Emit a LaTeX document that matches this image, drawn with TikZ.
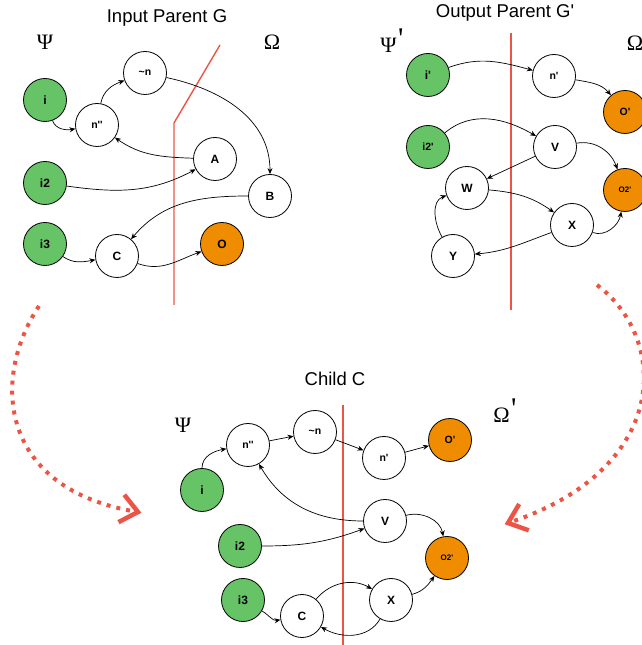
\documentclass[tikz,border=0pt]{standalone}
\usepackage{fontspec}
\newfontfamily\labelfont{Liberation Sans}
\newfontfamily\greekfont{Liberation Serif}
\usetikzlibrary{arrows.meta,positioning}
\definecolor{ingreen}{HTML}{66C466}
\definecolor{outorange}{HTML}{F08C00}
\definecolor{cutred}{HTML}{EC5546}
\newcommand{\primed}[1]{#1\kern1.5pt\raisebox{4pt}{\fontsize{30}{30}\selectfont '}}
\tikzset{
	vert/.style={
		circle,
		draw=black,
		line width=0.8pt,
		minimum size=43pt,
		inner sep=0pt,
		font=\labelfont\bfseries\fontsize{12}{12}\selectfont
	},
	smalltext/.style={font=\labelfont\bfseries\fontsize{10.5}{11}\selectfont},
	tinytext/.style={font=\labelfont\bfseries\fontsize{8}{8}\selectfont},
	greek/.style={font=\greekfont\fontsize{22}{22}\selectfont},
	heading/.style={font=\labelfont\fontsize{18.5}{19}\selectfont}
}

\begin{document}
\begin{tikzpicture}[x=1pt,y=1pt]
			\tikzstyle{source}=[vert, fill=ingreen]
			\tikzstyle{sink}=[vert, fill=outorange]
			\tikzstyle{mid}=[vert, fill=white]
			\tikzstyle{edge}=[-{Stealth[length=6pt,width=5pt]}, line width=0.7pt]
			\tikzstyle{cut}=[draw=cutred, line width=1.4pt]
			\tikzstyle{morph}=[draw=cutred, line width=4pt, dash pattern=on 4pt off 6pt]
			\tikzstyle{chevron}=[draw=cutred, line width=4.5pt, line join=miter]
			\useasboundingbox (0,0) rectangle (642,645);
			
			% input parent G
			\node[heading] (tG) at (167,627) {Input Parent G};
			\node[greek] (psiG) at (45,603) {Ψ};
			\node[greek] (omG) at (272,603) {Ω};
			\draw[cut] (220,600) -- (174,522) -- (174,340);
			\node[source] (i) at (45,545) {i};
			\node[source] (i2) at (45,462) {i2};
			\node[source] (i3) at (45,401) {i3};
			\node[mid, smalltext] (nn) at (97,520) {n''};
			\node[mid, smalltext] (tn) at (145,572) {\textasciitilde n};
			\node[mid] (A) at (215,486) {A};
			\node[mid] (B) at (270,449) {B};
			\node[mid] (C) at (117,389) {C};
			\node[sink] (O) at (222,401) {O};
			\draw[edge] (i) to[out=-70,in=190] (nn);
			\draw[edge] (nn) to[out=80,in=200] (tn);
			\draw[edge] (tn) to[out=-12,in=90] (B);
			\draw[edge] (A) to[out=178,in=-35] (nn);
			\draw[edge] (i2) to[out=-8,in=208] (A);
			\draw[edge] (B) to[out=180,in=50] (C);
			\draw[edge] (i3) to[out=-35,in=190] (C);
			\draw[edge] (C) to[out=-20,in=200] (O);
			
			% output parent G'
			\node[heading] (tGp) at (505,632) {Output Parent G'};
			\node[greek] (psiGp) at (392,604) {\primed{Ψ}};
			\node[greek] (omGp) at (635,602) {Ω};
			\draw[cut] (511,612) -- (511,335);
			\node[source] (ip) at (428,570) {i'};
			\node[source, smalltext] (i2p) at (428,498) {i2'};
			\node[mid, smalltext] (np) at (554,569) {n'};
			\node[sink, smalltext] (Op) at (625,533) {O'};
			\node[mid] (V) at (555,498) {V};
			\node[mid] (W) at (467,457) {W};
			\node[sink, tinytext] (O2p) at (625,455) {O2'};
			\node[mid] (X) at (572,420) {X};
			\node[mid] (Y) at (453,389) {Y};
			\draw[edge] (ip) to[out=20,in=165] (np);
			\draw[edge] (np) to[out=-10,in=130] (Op);
			\draw[edge] (i2p) to[out=40,in=150] (V);
			\draw[edge] (V) -- (W);
			\draw[edge] (V) to[out=10,in=110] (O2p);
			\draw[edge] (W) to[out=-5,in=145] (X);
			\draw[edge] (X) to[out=-20,in=-100] (O2p);
			\draw[edge] (X) to[out=200,in=5] (Y);
			\draw[edge] (Y) to[out=120,in=200] (W);
			
			% child C
			\node[heading] (tCh) at (335,266) {Child C};
			\node[greek] (psiCh) at (183,220) {Ψ};
			\node[greek] (omCh) at (505,234) {\primed{Ω}};
			\draw[cut] (343,240) -- (343,0);
			\node[source] (ci) at (202,155) {i};
			\node[source] (ci2) at (240,99) {i2};
			\node[source] (ci3) at (243,45) {i3};
			\node[mid, smalltext] (cnn) at (248,200) {n''};
			\node[mid, smalltext] (ctn) at (315,213) {\textasciitilde n};
			\node[mid, smalltext] (cnp) at (384,187) {n'};
			\node[sink, smalltext] (cOp) at (450,205) {O'};
			\node[mid] (cV) at (385,124) {V};
			\node[sink, tinytext] (cO2p) at (447,87) {O2'};
			\node[mid] (cX) at (391,45) {X};
			\node[mid] (cC) at (302,29) {C};
			\draw[edge] (ci) to[out=90,in=190] (cnn);
			\draw[edge] (cnn) -- (ctn);
			\draw[edge] (ctn) -- (cnp);
			\draw[edge] (cnp) -- (cOp);
			\draw[edge] (cV) to[out=180,in=-60] (cnn);
			\draw[edge] (ci2) to[out=0,in=200] (cV);
			\draw[edge] (cV) to[out=15,in=100] (cO2p);
			\draw[edge] (cX) to[out=15,in=-125] (cO2p);
			\draw[edge] (cC) to[out=50,in=150] (cX);
			\draw[edge] (cX) to[out=-120,in=-30] (cC);
			\draw[edge] (ci3) to[out=-30,in=190] (cC);
			
			% crossover arrows
			\coordinate (mlA) at (39,339);
			\coordinate (mlB) at (138,133);
			\coordinate (mrA) at (597,360);
			\coordinate (mrB) at (508,122);
			\draw[morph] (mlA) .. controls (-10,265) and (0,155) .. (mlB);
			\draw[morph] (mrA) .. controls (670,305) and (670,175) .. (mrB);
			\draw[chevron, shift={(mlB)}, rotate=-12] (-17,14) -- (0,0) -- (-17,-14);
			\draw[chevron, shift={(mrB)}, rotate=200] (-17,14) -- (0,0) -- (-17,-14);
			
\end{tikzpicture}
\end{document}
